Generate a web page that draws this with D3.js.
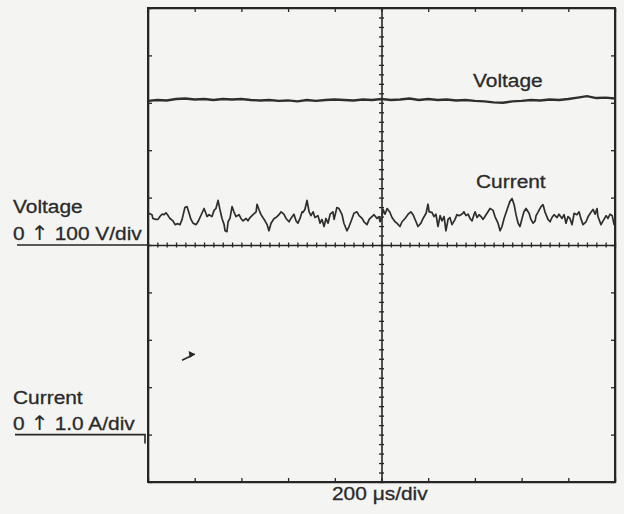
<!DOCTYPE html>
<html>
<head>
<meta charset="utf-8">
<script src="https://cdn.jsdelivr.net/npm/d3@7"></script>
<style>
  html, body { margin: 0; padding: 0; background: #f4f4f2; }
  svg text { font-family: "Liberation Sans", Arial, sans-serif; fill: #2a2a2a; stroke: #2a2a2a; stroke-width: 0.3; }
  svg text .arrow { font-family: "DejaVu Sans", sans-serif; }
</style>
</head>
<body>
<svg id="scope" width="624" height="514"></svg>
<script>
// time base: 10 div x 200 us
const timeDomain = [0, 2000];
const divDomain = [-5, 5];
const voltsPerDiv = 100;
const ampsPerDiv = 1.0;
const voltageZeroDiv = 0;
const currentZeroDiv = -4;

// voltage trace, sampled every 40 us (V)
const voltageTime = d3.range(0, 2001, 40);
const voltageValues = [304, 306, 305, 308, 309, 307, 308, 306, 308, 307, 308, 306, 305, 306, 304, 305,
    303, 306, 304, 306, 307, 306, 305, 307, 306, 308, 306, 307, 309, 306, 308, 306, 307, 305, 306, 304,
    303, 301, 300, 303, 304, 306, 305, 307, 306, 308, 311, 314, 310, 311, 309];

// current trace (us, A)
const currentTime = [0, 4, 17, 21, 34, 43, 51, 60, 69, 77, 86, 94, 107, 116, 128, 137, 146, 158, 167, 176,
    184, 193, 206, 214, 231, 240, 253, 261, 274, 283, 291, 300, 308, 317, 326, 330, 338, 343, 351, 360,
    368, 377, 390, 398, 407, 420, 428, 437, 450, 463, 467, 475, 484, 501, 510, 518, 527, 540, 548, 561,
    570, 582, 591, 604, 612, 625, 634, 642, 651, 660, 664, 672, 681, 690, 698, 707, 715, 728, 737, 745,
    754, 762, 771, 780, 792, 797, 809, 818, 831, 839, 852, 861, 874, 882, 895, 904, 917, 925, 938, 947,
    959, 968, 981, 989, 994, 1002, 1007, 1015, 1024, 1036, 1045, 1058, 1066, 1079, 1088, 1101, 1114, 1126, 1135, 1148,
    1156, 1169, 1178, 1191, 1199, 1204, 1216, 1225, 1233, 1242, 1251, 1259, 1268, 1276, 1285, 1293, 1302, 1315, 1323, 1332,
    1341, 1349, 1353, 1362, 1371, 1379, 1388, 1396, 1401, 1409, 1418, 1426, 1435, 1443, 1456, 1465, 1478, 1486, 1499, 1508,
    1516, 1525, 1538, 1550, 1559, 1568, 1576, 1585, 1593, 1602, 1610, 1619, 1632, 1640, 1649, 1658, 1662, 1670, 1683, 1692,
    1700, 1713, 1722, 1730, 1739, 1752, 1760, 1773, 1782, 1790, 1799, 1807, 1816, 1825, 1837, 1846, 1855, 1863, 1876, 1885,
    1897, 1906, 1915, 1923, 1927, 1940, 1949, 1962, 1970, 1979, 1988, 1996, 2000];
const currentValues = [4.64, 4.67, 4.64, 4.56, 4.54, 4.54, 4.60, 4.65, 4.64, 4.68, 4.62, 4.56, 4.51, 4.43, 4.45, 4.43, 4.54, 4.79, 4.81, 4.67,
    4.54, 4.46, 4.43, 4.49, 4.67, 4.77, 4.60, 4.64, 4.60, 4.73, 4.77, 4.94, 4.75, 4.56, 4.43, 4.30, 4.28, 4.49, 4.56, 4.81,
    4.70, 4.60, 4.64, 4.56, 4.51, 4.56, 4.51, 4.58, 4.64, 4.70, 4.86, 4.75, 4.64, 4.51, 4.43, 4.30, 4.46, 4.56, 4.58, 4.64,
    4.70, 4.65, 4.56, 4.49, 4.56, 4.65, 4.51, 4.46, 4.56, 4.70, 4.69, 4.75, 4.94, 4.70, 4.62, 4.70, 4.58, 4.62, 4.46, 4.54,
    4.39, 4.56, 4.46, 4.65, 4.70, 4.54, 4.79, 4.77, 4.64, 4.46, 4.30, 4.39, 4.56, 4.67, 4.70, 4.62, 4.56, 4.49, 4.43, 4.54,
    4.60, 4.64, 4.56, 4.60, 4.49, 4.60, 4.75, 4.65, 4.77, 4.69, 4.58, 4.49, 4.46, 4.39, 4.49, 4.56, 4.65, 4.70, 4.64, 4.49,
    4.39, 4.46, 4.56, 4.67, 4.86, 4.70, 4.69, 4.60, 4.65, 4.39, 4.62, 4.51, 4.60, 4.30, 4.54, 4.58, 4.43, 4.54, 4.64, 4.62,
    4.64, 4.67, 4.70, 4.62, 4.65, 4.56, 4.51, 4.64, 4.70, 4.58, 4.64, 4.60, 4.54, 4.60, 4.70, 4.77, 4.73, 4.60, 4.46, 4.30,
    4.39, 4.56, 4.75, 4.92, 4.98, 4.85, 4.64, 4.46, 4.39, 4.56, 4.70, 4.77, 4.67, 4.54, 4.46, 4.51, 4.62, 4.69, 4.81, 4.85,
    4.70, 4.54, 4.49, 4.58, 4.64, 4.58, 4.65, 4.56, 4.64, 4.46, 4.60, 4.56, 4.43, 4.67, 4.64, 4.70, 4.54, 4.43, 4.49, 4.60,
    4.69, 4.75, 4.65, 4.77, 4.60, 4.43, 4.51, 4.62, 4.56, 4.65, 4.62, 4.43, 4.55];

const traceLabels = ["Voltage", "Current"];
const scaleLabels = [["0 ", "\u2191", " 100 V/div"], ["0 ", "\u2191", " 1.0 A/div"]];
const timeLabel = "200 \u03bcs/div";

const svg = d3.select("#scope");
const ink = "#262626";
const stretch = 1.1; // scan is a bit wider than tall

const x = d3.scaleLinear().domain(timeDomain).range([148, 615]);
const y = d3.scaleLinear().domain(divDomain).range([482, 8]);

// frame
svg.append("rect")
    .attr("x", x(0)).attr("y", y(5))
    .attr("width", x(2000) - x(0)).attr("height", y(-5) - y(5))
    .attr("fill", "none").attr("stroke", ink).attr("stroke-width", 2);

const divTicksX = d3.range(0, 2001, 200);
const divTicksY = d3.range(-5, 5.01, 1);
const minorX = d3.range(0, 2001, 40);
const minorY = d3.range(-5, 5.01, 0.2);

function plain(axis) { return axis.tickFormat("").tickSizeOuter(0); }

// edge ticks pointing inwards
svg.append("g").attr("transform", `translate(0,${y(5)})`)
    .call(plain(d3.axisBottom(x).tickValues(divTicksX).tickSize(4)));
svg.append("g").attr("transform", `translate(0,${y(-5)})`)
    .call(plain(d3.axisTop(x).tickValues(divTicksX).tickSize(4)));
svg.append("g").attr("transform", `translate(${x(0)},0)`)
    .call(plain(d3.axisRight(y).tickValues(divTicksY).tickSize(4)));
svg.append("g").attr("transform", `translate(${x(2000)},0)`)
    .call(plain(d3.axisLeft(y).tickValues(divTicksY).tickSize(4)));

// centre graticule with minor ticks both sides
const cx = svg.append("g").attr("transform", `translate(0,${y(0)})`)
    .call(plain(d3.axisBottom(x).tickValues(minorX).tickSize(2.5)));
cx.selectAll(".tick line").attr("y1", -2.5);
const cy = svg.append("g").attr("transform", `translate(${x(1000)},0)`)
    .call(plain(d3.axisRight(y).tickValues(minorY).tickSize(2.5)));
cy.selectAll(".tick line").attr("x1", -2.5);

svg.selectAll("g .domain").attr("stroke", ink).attr("stroke-width", 1.6);
svg.selectAll("g .tick line").attr("stroke", ink).attr("stroke-width", 1.3);

// traces
const voltageLine = d3.line()
    .x((d, i) => x(voltageTime[i]))
    .y(d => y(d / voltsPerDiv + voltageZeroDiv));
const currentLine = d3.line()
    .x((d, i) => x(currentTime[i]))
    .y(d => y(d / ampsPerDiv + currentZeroDiv));

svg.append("path").datum(voltageValues)
    .attr("d", voltageLine)
    .attr("fill", "none").attr("stroke", "#2e2e2e").attr("stroke-width", 2.4);
svg.append("path").datum(currentValues)
    .attr("d", currentLine)
    .attr("fill", "none").attr("stroke", "#2e2e2e").attr("stroke-width", 1.7)
    .attr("stroke-linejoin", "round");

// zero reference lines to the left
svg.append("line")
    .attr("x1", 17).attr("x2", x(0))
    .attr("y1", y(voltageZeroDiv)).attr("y2", y(voltageZeroDiv))
    .attr("stroke", ink).attr("stroke-width", 1.6);
svg.append("path")
    .attr("d", `M15,${y(currentZeroDiv)}H${x(0) - 3}V${y(currentZeroDiv) + 9}`)
    .attr("fill", "none").attr("stroke", ink).attr("stroke-width", 1.6);

function label(txt, lx, ly, size) {
    const t = svg.append("text")
        .attr("transform", `translate(${lx},${ly}) scale(${stretch},1)`)
        .style("font-size", size + "px");
    if (Array.isArray(txt)) {
        txt.forEach((s, i) => {
            const sp = t.append("tspan").text(s);
            if (i === 1) sp.attr("class", "arrow").style("font-size", (size + 1) + "px")
                .style("stroke-width", 0);
        });
    } else {
        t.text(txt);
    }
}

label(traceLabels[0], 13, 213, 19);
label(scaleLabels[0], 13, 240, 19);
label(traceLabels[1], 13, 404, 19);
label(scaleLabels[1], 13, 430, 19);
label(traceLabels[0], 473, 87, 19);
label(traceLabels[1], 476, 188, 19);
label(timeLabel, 332, 500, 19);

// small arrow mark on the screen
svg.append("path")
    .attr("d", `M${x(146)},${y(-2.43)}L${x(200)},${y(-2.3)}`)
    .attr("stroke", ink).attr("stroke-width", 1.6);
svg.append("path")
    .attr("d", `M${x(200) - 6},${y(-2.3) - 3}L${x(200)},${y(-2.3)}L${x(200) - 5},${y(-2.3) + 4}Z`)
    .attr("fill", ink);
</script>
</body>
</html>
